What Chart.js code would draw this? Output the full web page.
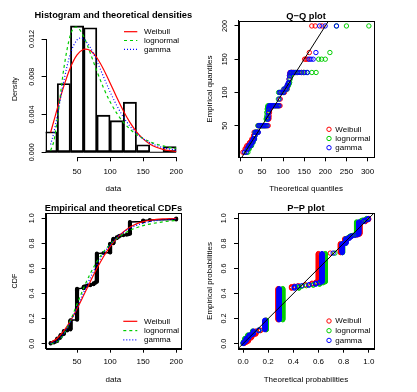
<!DOCTYPE html>
<html><head><meta charset="utf-8">
<script src="https://cdn.jsdelivr.net/npm/chart.js@4.4.1/dist/chart.umd.min.js"></script>
<style>
html,body{margin:0;padding:0;background:#fff;}
#wrap{position:relative;width:417px;height:392px;overflow:hidden;background:#fff;}
#wrap canvas{position:absolute;}
</style></head><body>
<div id="wrap">
<canvas id="c1" width="207" height="196" style="left:0;top:0"></canvas>
<canvas id="c2" width="217" height="196" style="left:200px;top:0"></canvas>
<canvas id="c3" width="207" height="196" style="left:0;top:196px"></canvas>
<canvas id="c4" width="217" height="196" style="left:200px;top:196px"></canvas>
</div>
<script>
// ---------------- data ----------------
const fitNames = ['Weibull', 'lognormal', 'gamma'];

// empirical sample: distinct serving sizes and how often each occurs
const servingValues = [10,15,18,20,24,25,28,30,35,40,50,60,62,65,70,75,78,80,90,100,105,110,113,115,120,125,128,130,150,160,200];
const servingCounts = [2,2,1,6,2,5,1,7,2,20,64,4,1,1,2,3,2,58,1,19,10,3,2,1,1,1,1,25,3,1,3];

// histogram (bin centres, density heights)
const binCenters = [10,30,50,70,90,110,130,150,170,190];
const binDensities = [0.002165,0.007283,0.013386,0.013189,0.003937,0.003346,0.005315,0.000787,0,0.000591];
const binEdges = [0,20,40,60,80,100,120,140,160,180,200];

// fitted densities
const weibullDensX = [10,15,20,25,30,40,50,60,63,70,80,90,100,110,120,130,140,150,160,170,180,190,200];
const weibullDensY = [0.002101,0.003351,0.004617,0.005851,0.007012,0.008981,0.010313,0.010908,0.010940,0.010772,0.010013,0.008803,0.007343,0.005823,0.004398,0.003163,0.002171,0.001421,0.000887,0.000528,0.000300,0.000163,0.0000845];
const lnormDensX = [10,15,20,25,30,40,48.5,50,60,70,80,90,100,110,120,130,140,150,160,170,180,190,200];
const lnormDensY = [0.000175,0.001216,0.003401,0.006196,0.008896,0.012449,0.013273,0.013255,0.012271,0.010506,0.008591,0.006833,0.005346,0.004141,0.003191,0.002453,0.001885,0.001450,0.001118,0.000864,0.000670,0.000521,0.000406];
const gammaDensX = [10,15,20,25,30,40,50,55.6,60,70,80,90,100,110,120,130,140,150,160,170,180,190,200];
const gammaDensY = [0.000820,0.002118,0.003836,0.005734,0.007564,0.010460,0.011912,0.012106,0.011996,0.011100,0.009654,0.008008,0.006400,0.004961,0.003746,0.002776,0.002019,0.001446,0.001022,0.000713,0.000493,0.000338,0.000229];

// fitted CDFs
const cdfX = [10,20,30,40,50,60,70,80,90,100,110,120,130,140,150,160,170,180,190,200];
const weibullCdf = [0.00966,0.04320,0.10159,0.18204,0.27908,0.38580,0.49479,0.59917,0.69357,0.77442,0.84022,0.89116,0.92880,0.95525,0.97302,0.98440,0.99135,0.99540,0.99766,0.99886];
const lnormCdf = [0.00025,0.01437,0.07615,0.18531,0.31581,0.44445,0.55867,0.65411,0.73102,0.79168,0.83889,0.87535,0.90340,0.92497,0.94155,0.95431,0.96416,0.97178,0.97770,0.98231];
const gammaCdf = [0.00229,0.02448,0.08218,0.17393,0.28742,0.40818,0.52443,0.62839,0.71661,0.78835,0.84476,0.88792,0.92019,0.94387,0.96095,0.97310,0.98162,0.98755,0.99162,0.99440];

// Q-Q plot: empirical quantile and theoretical quantiles per point
const qqEmpirical = [10,10,15,15,18,20,20,20,24,24,25,25,28,30,30,30,35,35,40,40,40,40,40,50,50,50,50,50,50,50,50,50,60,60,62,65,70,70,75,75,78,78,80,80,80,80,80,80,80,80,80,90,100,100,100,100,105,105,105,110,110,113,113,115,120,125,128,130,130,130,130,130,130,130,130,130,150,150,150,160,200,200,200];
const qqWeibull = [4.83,7.98,10.09,11.78,13.23,14.51,17.26,19.59,20.45,21.26,22.04,24.92,25.58,26.23,28.39,29.83,30.39,30.94,31.48,33.83,36.30,38.65,40.58,41.02,44.08,47.14,50.09,52.96,55.77,58.55,61.30,64.85,65.20,66.28,66.65,67.01,67.37,67.73,68.10,68.82,69.19,69.56,69.91,72.35,75.20,78.10,81.09,84.17,87.38,90.74,92.90,93.37,93.85,96.78,100.08,103.18,103.80,106.67,109.36,110.05,111.42,112.15,112.87,113.60,114.36,115.12,115.90,116.71,119.28,122.07,125.26,128.82,133.43,137.68,143.64,148.29,151.00,154.07,157.77,162.15,167.96,176.14,192.25];
const qqLnorm = [13.76,16.75,18.50,19.82,20.92,21.87,23.85,25.49,26.09,26.65,27.19,29.15,29.63,30.07,31.56,32.55,32.94,33.32,33.70,35.34,37.09,38.76,40.14,40.46,42.74,45.04,47.31,49.57,51.84,54.13,56.46,59.57,59.88,60.85,61.18,61.50,61.83,62.16,62.49,63.16,63.49,63.83,64.16,66.45,69.19,72.08,75.13,78.39,81.89,85.69,88.27,88.83,89.42,92.88,97.00,101.02,101.83,105.70,109.49,110.45,112.40,113.45,114.50,115.59,116.74,117.90,119.11,120.21,124.19,128.65,133.90,140.02,148.29,156.34,168.18,178.13,184.21,191.14,199.93,210.82,226.30,249.96,303.07];
const qqGamma = [8.82,12.52,14.75,16.42,17.83,19.03,21.55,23.63,24.38,25.09,25.76,28.22,28.80,29.36,31.19,32.40,32.89,33.34,33.80,35.78,37.87,39.84,41.46,41.83,44.47,47.09,49.64,52.14,54.62,57.09,59.57,62.82,63.15,64.15,64.49,64.82,65.15,65.49,65.83,66.51,66.85,67.19,67.53,69.82,72.54,75.35,78.29,81.37,84.61,88.08,90.39,90.89,91.41,94.45,98.02,101.43,102.11,105.33,108.43,109.21,110.78,111.62,112.46,113.32,114.23,115.14,116.09,116.95,120.02,123.40,127.33,131.79,137.68,143.27,151.24,157.71,161.56,165.89,171.25,177.71,186.62,199.60,226.40];

// P-P plot: theoretical probability at each distinct serving size
const ppWeibull = [0.00966,0.02327,0.03446,0.04320,0.06365,0.06939,0.08802,0.10159,0.13934,0.18204,0.27908,0.38580,0.40767,0.44048,0.49479,0.54791,0.57897,0.59917,0.69357,0.77442,0.80922,0.84022,0.85703,0.86753,0.89116,0.91154,0.92224,0.92880,0.97302,0.98440,0.99886];
const ppLnorm = [0.00025,0.00323,0.00858,0.01437,0.03235,0.03826,0.05938,0.07615,0.12628,0.18531,0.31581,0.44445,0.46868,0.50379,0.55867,0.60879,0.63655,0.65411,0.73102,0.79168,0.81679,0.83889,0.85085,0.85831,0.87535,0.89030,0.89836,0.90340,0.94155,0.95431,0.98231];
const ppGamma = [0.00229,0.00959,0.01754,0.02448,0.04299,0.04864,0.06760,0.08218,0.12450,0.17393,0.28742,0.40818,0.43217,0.46742,0.52443,0.57827,0.60887,0.62839,0.71661,0.78835,0.81834,0.84476,0.85679,0.86786,0.88792,0.90510,0.91449,0.92019,0.96095,0.97310,0.99440];

// reference line y = x
const qqRef = [-50, 400];
const ppRef = [-1, 2];

// tick values and labels
const densXTicks = [50,100,150,200];
const densYTicks = [0,0.004,0.008,0.012];
const densYLabels = ['0.000','0.004','0.008','0.012'];
const qqXTicks = [0,50,100,150,200,250,300];
const qqYTicks = [50,100,150,200];
const probTicks = [0,0.2,0.4,0.6,0.8,1.0];
const probLabels = ['0.0','0.2','0.4','0.6','0.8','1.0'];

// ---------------- styling ----------------
const FONT = "'Liberation Sans', Arial, Helvetica, sans-serif";
const FS = 8;        // horizontal text
const FSV = 7.2;     // rotated (vertical) text
Chart.defaults.font.family = FONT;
Chart.defaults.font.size = FS;
Chart.defaults.color = '#000';
const fitColors = ['#FF0000', '#00CD00', '#0000FF'];
const fitDashes = [[], [3, 3], [1, 2]];

const pts = (xs, ys) => xs.map((x, i) => ({x: x, y: ys[i]}));

// expand the counted sample into sorted observations (plotting position (i-0.5)/n)
const sample = [];
servingValues.forEach((v, k) => { for (let j = 0; j < servingCounts[k]; j++) sample.push({v: v, k: k}); });
const N = sample.length;
const ecdfPoints = sample.map((s, i) => ({x: s.v, y: (i + 0.5) / N}));
const ppPoints = F => sample.map((s, i) => ({x: F[s.k], y: (i + 0.5) / N}));

// ---------------- R-like decorations (title, box, rotated y labels, legend) ----------------
const rDecor = {
  id: 'rDecor',
  afterDraw(chart, args, o) {
    if (!o || !o.title) return;
    const ctx = chart.ctx, a = chart.chartArea;
    const xs = chart.scales.x, ys = chart.scales.y;
    ctx.save();
    ctx.strokeStyle = '#000'; ctx.fillStyle = '#000'; ctx.lineWidth = 1;
    if (o.box) {
      ctx.strokeRect(Math.round(a.left) + 0.5, Math.round(a.top) + 0.5,
        Math.round(a.right) - Math.round(a.left), Math.round(a.bottom) - Math.round(a.top));
    } else {
      const lx = Math.round(a.left) + 0.5, by = Math.round(a.bottom) + 0.5;
      const yt = ys.ticks, xt = xs.ticks;
      ctx.beginPath();
      ctx.moveTo(lx, ys.getPixelForValue(yt[0].value));
      ctx.lineTo(lx, ys.getPixelForValue(yt[yt.length - 1].value));
      ctx.moveTo(xs.getPixelForValue(xt[0].value), by);
      ctx.lineTo(xs.getPixelForValue(xt[xt.length - 1].value), by);
      ctx.stroke();
    }
    ctx.font = FSV + 'px ' + FONT; ctx.textAlign = 'center'; ctx.textBaseline = 'middle';
    ys.ticks.forEach((t, i) => {
      ctx.save();
      ctx.translate(a.left - o.yLabelGap, ys.getPixelForValue(t.value));
      ctx.rotate(-Math.PI / 2);
      ctx.fillText(o.yLabels[i], 0, 0);
      ctx.restore();
    });
    ctx.font = 'bold 9.3px ' + FONT;
    ctx.fillText(o.title, (a.left + a.right) / 2, a.top - o.titleGap);
    const L = o.legend;
    ctx.font = FS + 'px ' + FONT; ctx.textAlign = 'left';
    fitNames.forEach((name, i) => {
      const y = L.y + i * L.dy;
      ctx.strokeStyle = fitColors[i];
      if (L.kind === 'line') {
        ctx.lineWidth = 1.2; ctx.setLineDash(fitDashes[i]);
        ctx.beginPath(); ctx.moveTo(L.x0, y); ctx.lineTo(L.x1, y); ctx.stroke();
        ctx.setLineDash([]);
      } else {
        ctx.lineWidth = 1;
        ctx.beginPath(); ctx.arc(L.px, y, 2.2, 0, Math.PI * 2); ctx.stroke();
      }
      ctx.fillStyle = '#000';
      ctx.fillText(name, L.tx, y);
    });
    ctx.restore();
  }
};
Chart.register(rDecor);

function xAxis(min, max, ticks, labels, title, h, labelPad, titlePad, border) {
  return {
    type: 'linear', position: 'bottom', min: min, max: max, offset: false,
    afterBuildTicks: s => { s.ticks = ticks.map(v => ({value: v})); },
    afterFit: s => { s.height = h; },
    ticks: {autoSkip: false, maxRotation: 0, minRotation: 0, padding: labelPad, color: '#000',
            font: {size: FS}, callback: (v, i) => labels[i]},
    grid: {display: true, offset: false, drawOnChartArea: false, drawTicks: true, tickLength: 4,
           color: '#000', lineWidth: 1},
    border: {display: border, color: '#000', width: 1},
    title: {display: true, text: title, color: '#000', font: {size: FS}, padding: {top: 0, bottom: titlePad}}
  };
}
function yAxis(min, max, ticks, w, title, titlePad, border, titleSize) {
  return {
    type: 'linear', position: 'left', min: min, max: max,
    afterBuildTicks: s => { s.ticks = ticks.map(v => ({value: v})); },
    afterFit: s => { s.width = w; },
    ticks: {display: false},
    grid: {display: true, offset: false, drawOnChartArea: false, drawTicks: true, tickLength: 4,
           color: '#000', lineWidth: 1},
    border: {display: border, color: '#000', width: 1},
    title: {display: true, text: title, color: '#000', font: {size: titleSize}, padding: {top: titlePad, bottom: 0}}
  };
}
function options(pad, x, y, decor) {
  return {
    responsive: false, animation: false, devicePixelRatio: 1, events: [],
    layout: {padding: {left: 0, right: pad.R, top: pad.T, bottom: 0}},
    plugins: {legend: {display: false}, tooltip: {enabled: false}, title: {display: false}, rDecor: decor},
    scales: {x: x, y: y}
  };
}
const commonDecor = {yLabelGap: 13.5};

function curve(i, xs, ys, order) {
  return {type: 'line', label: fitNames[i], data: pts(xs, ys), borderColor: fitColors[i],
          borderDash: fitDashes[i], borderWidth: 1.2, pointRadius: 0, fill: false,
          cubicInterpolationMode: 'monotone', order: order};
}
function cloud(i, data, order) {
  return {type: 'scatter', label: fitNames[i], data: data, showLine: false, pointRadius: 2.2,
          pointBorderWidth: 1, pointBorderColor: fitColors[i], pointBackgroundColor: 'rgba(0,0,0,0)',
          pointStyle: 'circle', order: order};
}
function refLine(vals) {
  return {type: 'line', label: 'y = x', data: vals.map(v => ({x: v, y: v})), borderColor: '#000',
          borderWidth: 1, pointRadius: 0, fill: false, order: 0};
}

// ---- 1: histogram and densities ----
new Chart(document.getElementById('c1'), {
  type: 'bar',
  data: {datasets: [
    curve(2, gammaDensX, gammaDensY, 1),
    curve(1, lnormDensX, lnormDensY, 2),
    curve(0, weibullDensX, weibullDensY, 3),
    {type: 'bar', label: 'histogram', data: pts(binCenters, binDensities), backgroundColor: 'rgba(0,0,0,0)',
     borderColor: '#000', borderWidth: 1.2, borderSkipped: false, barPercentage: 1, categoryPercentage: 1, order: 4},
    {type: 'line', label: 'base', data: binEdges.map(e => ({x: e, y: 0})), borderColor: '#000',
     borderWidth: 1, pointRadius: 0, fill: false, order: 5}
  ]},
  options: options({R: 25.8, T: 20.9},
    xAxis(2.4, 207.6, densXTicks, densXTicks.map(String), 'data', 38.7, 5.5, 2.2, false),
    yAxis(-0.000535, 0.013921, densYTicks, 45.6, 'Density', 10.7, false, 7.2),
    Object.assign({}, commonDecor, {box: false, yLabels: densYLabels, title: 'Histogram and theoretical densities',
      titleGap: 5.2, legend: {kind: 'line', x0: 124, x1: 137.3, tx: 144, y: 31.7, dy: 8.8}}))
});

// ---- 2: Q-Q plot ----
new Chart(document.getElementById('c2'), {
  type: 'scatter',
  data: {datasets: [
    refLine(qqRef),
    cloud(2, pts(qqGamma, qqEmpirical), 1),
    cloud(1, pts(qqLnorm, qqEmpirical), 2),
    cloud(0, pts(qqWeibull, qqEmpirical), 3)
  ]},
  options: options({R: 43.3, T: 20.9},
    xAxis(-5.5, 314.5, qqXTicks, qqXTicks.map(String), 'Theoretical quantiles', 38.7, 5.5, 2.2, true),
    yAxis(2.4, 207.6, qqYTicks, 38.5, 'Empirical quantiles', 4.5, true, 8),
    Object.assign({}, commonDecor, {box: true, yLabels: qqYTicks.map(String), title: 'Q\u2212Q plot',
      titleGap: 4.5, legend: {kind: 'point', px: 129, tx: 135.3, y: 129.3, dy: 9.2}}))
});

// ---- 3: empirical and theoretical CDFs ----
new Chart(document.getElementById('c3'), {
  type: 'scatter',
  data: {datasets: [
    curve(2, cdfX, gammaCdf, 1),
    curve(1, cdfX, lnormCdf, 2),
    curve(0, cdfX, weibullCdf, 3),
    {type: 'scatter', label: 'empirical', data: ecdfPoints, showLine: true, borderColor: '#000', borderWidth: 1.5,
     pointRadius: 2, pointBackgroundColor: '#000', pointBorderWidth: 0, order: 4}
  ]},
  options: options({R: 25.8, T: 17.3},
    xAxis(2.4, 207.6, densXTicks, densXTicks.map(String), 'data', 43.3, 4.2, 7.2, true),
    yAxis(-0.04, 1.04, probTicks, 45.6, 'CDF', 10.7, true, 7.2),
    Object.assign({}, commonDecor, {box: true, yLabels: probLabels, title: 'Empirical and theoretical CDFs',
      titleGap: 4.6, legend: {kind: 'line', x0: 123.3, x1: 137.3, tx: 144, y: 125.3, dy: 9.3}}))
});

// ---- 4: P-P plot ----
new Chart(document.getElementById('c4'), {
  type: 'scatter',
  data: {datasets: [
    refLine(ppRef),
    cloud(2, ppPoints(ppGamma), 1),
    cloud(1, ppPoints(ppLnorm), 2),
    cloud(0, ppPoints(ppWeibull), 3)
  ]},
  options: options({R: 43.2, T: 17.3},
    xAxis(-0.04, 1.04, probTicks, probLabels, 'Theoretical probabilities', 43.3, 4.2, 7.2, true),
    yAxis(-0.04, 1.04, probTicks, 38, 'Empirical probabilities', 4.5, true, 8),
    Object.assign({}, commonDecor, {box: true, yLabels: probLabels, title: 'P\u2212P plot',
      titleGap: 4.6, legend: {kind: 'point', px: 129, tx: 135.3, y: 125, dy: 9.7}}))
});
</script>
</body></html>
